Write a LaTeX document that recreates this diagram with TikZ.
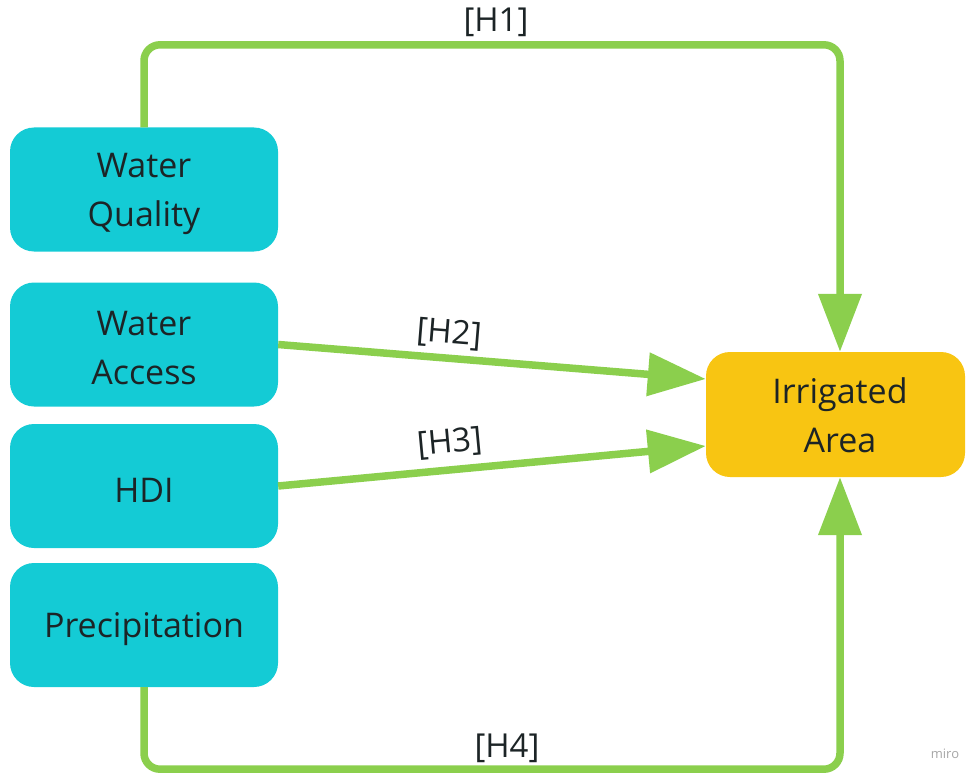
\documentclass[tikz,border=0pt]{standalone}
\usepackage{fontspec}
\setmainfont{Open Sans}
\usetikzlibrary{arrows.meta}
\definecolor{teal1}{HTML}{14CBD5}
\definecolor{gold1}{HTML}{F8C512}
\definecolor{green1}{HTML}{8BCF4D}
\definecolor{ink}{HTML}{1C2426}
\begin{document}
\begin{tikzpicture}[x=1pt,y=-1pt,
  box/.style={rounded corners=24pt, minimum width=268pt, minimum height=124pt, inner sep=0pt},
  src/.style={box, fill=teal1},
  tgt/.style={box, fill=gold1, minimum width=259pt, minimum height=125pt},
  boxtext/.style={align=center, font=\fontsize{34}{49}\selectfont, text=ink, inner sep=0pt},
  link/.style={draw=green1, line width=7.5pt, -{Triangle[length=58pt,width=42pt]}},
  lbl/.style={font=\fontsize{33}{38}\selectfont, text=ink, inner sep=0pt}]
\useasboundingbox (0,0) rectangle (967,773);

\node[src] (wq) at (144,189.5) {};
\node[src] (wa) at (144,344.5) {};
\node[src] (hdi) at (144,486) {};
\node[src] (pr) at (144,625) {};
\node[tgt] (ia) at (835.5,414.5) {};

\node[boxtext] (wqt) at ([yshift=-4pt]wq.center) {Water\\Quality};
\node[boxtext] (wat) at ([yshift=-4pt]wa.center) {Water\\Access};
\node[boxtext] (hdit) at ([yshift=-4pt]hdi.center) {HDI};
\node[boxtext] (prt) at ([yshift=-4pt]pr.center) {Precipitation};
\node[boxtext] (iat) at ([xshift=4.5pt,yshift=-1pt]ia.center) {Irrigated\\Area};

\coordinate (iaT) at ([xshift=4.5pt]ia.north);
\coordinate (iaB) at ([xshift=4.5pt]ia.south);
\coordinate (iaW2) at ([yshift=35.5pt]ia.west);
\coordinate (iaW3) at ([yshift=-31.5pt]ia.west);

\draw[link, rounded corners=16pt] (wq.north) -- ++(0,-82.5) -| (iaT);
\draw[link, rounded corners=16pt] (pr.south) -- ++(0,82) -| (iaB);
\draw[link] (wa.east) -- (iaW2);
\draw[link] (hdi.east) -- (iaW3);

\node[lbl] (h1) at (496,22) {[H1]};
\node[lbl, rotate=-4.6] (h2) at (449,334) {[H2]};
\node[lbl, rotate=5.3] (h3) at (450,443) {[H3]};
\node[lbl] (h4) at (507,748) {[H4]};
\node[font=\fontsize{13}{15}\selectfont, text=black!35, inner sep=0pt] (miro) at (945,754) {miro};
\end{tikzpicture}
\end{document}
